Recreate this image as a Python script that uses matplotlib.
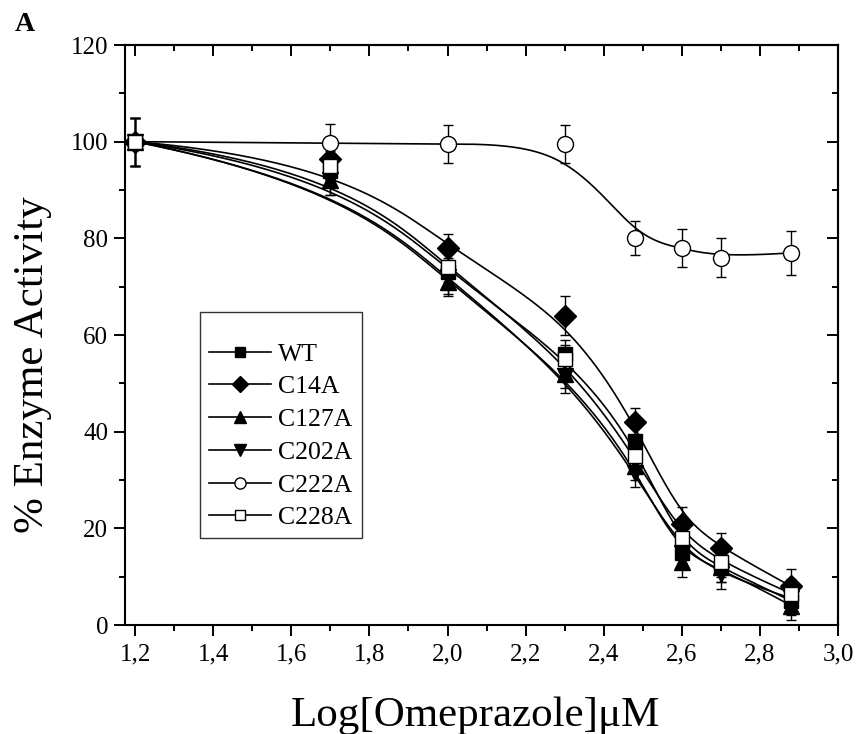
import numpy as np
import matplotlib
matplotlib.use("Agg")
import matplotlib.pyplot as plt
from matplotlib.ticker import MultipleLocator, FuncFormatter

plt.rcParams['font.family'] = ['Liberation Serif', 'DejaVu Serif']
plt.rcParams['mathtext.fontset'] = 'stix'

log_conc = [1.2, 1.7, 2.0, 2.3, 2.48, 2.6, 2.7, 2.88]
series_names = ["WT", "C14A", "C127A", "C202A", "C222A", "C228A"]
wt = [100, 94, 73, 56, 38, 15, 12, 5]
c14a = [100, 96.5, 78, 64, 42, 21, 16, 8]
c127a = [100, 92, 71, 52, 33, 13, 12, 4]
c202a = [100, 92, 72, 51.5, 31.5, 15, 10.5, 5.5]
c222a = [100, 99.7, 99.5, 99.5, 80, 78, 76, 77]
c228a = [100, 95, 74, 55, 35, 18, 13, 6.5]
wt_err = [5, 3, 3, 3, 3, 3, 3, 3]
c14a_err = [5, 4, 3, 4, 3, 3.5, 3, 3.5]
c127a_err = [5, 3, 3, 3, 3, 3, 3, 3]
c202a_err = [5, 3, 3.5, 3.5, 3, 3, 3, 3]
c222a_err = [5, 4, 4, 4, 3.5, 4, 4, 4.5]
c228a_err = [5, 3, 3, 3, 3, 3, 3, 3]

values = [wt, c14a, c127a, c202a, c222a, c228a]
errors = [wt_err, c14a_err, c127a_err, c202a_err, c222a_err, c228a_err]
markers = ['s', 'D', '^', 'v', 'o', 's']
faces = ['black', 'black', 'black', 'black', 'white', 'white']
msizes = [10, 11.5, 11.5, 11.5, 11.5, 10]


def bspline(x, y, n=300, k=3):
    P = np.column_stack([x, y]).astype(float)
    m = len(P)
    t = np.concatenate([np.zeros(k), np.linspace(0, 1, m - k + 1), np.ones(k)])
    u = np.linspace(0, 1, n)
    u[-1] = 1 - 1e-12
    B = np.zeros((n, len(t) - 1))
    for i in range(len(t) - 1):
        B[:, i] = ((t[i] <= u) & (u < t[i + 1])).astype(float)
    for p in range(1, k + 1):
        nb = np.zeros((n, len(t) - 1 - p))
        for i in range(len(t) - 1 - p):
            left = 0
            right = 0
            d1 = t[i + p] - t[i]
            d2 = t[i + p + 1] - t[i + 1]
            if d1 > 0:
                left = (u - t[i]) / d1 * B[:, i]
            if d2 > 0:
                right = (t[i + p + 1] - u) / d2 * B[:, i + 1]
            nb[:, i] = left + right
        B = nb
    C = B @ P
    return C[:, 0], C[:, 1]


fig = plt.figure(figsize=(8.59, 7.34), dpi=100)
ax = fig.add_axes([125 / 859, 1 - 625 / 734, (838 - 125) / 859, (625 - 45) / 734])

handles = []
for name, vals, err, mk, fc, ms in zip(series_names, values, errors, markers, faces, msizes):
    cx, cy = bspline(log_conc, vals)
    ax.plot(cx, cy, color='black', lw=1.2, zorder=2)
    ax.errorbar(log_conc, vals, yerr=err, fmt='none', ecolor='black', elinewidth=1.0,
                capsize=3.5, capthick=1.0, zorder=3)
    ax.plot(log_conc, vals, linestyle='none', marker=mk, ms=ms, mfc=fc, mec='black',
            mew=1.0, zorder=4)
    h, = ax.plot([], [], color='black', lw=1.2, marker=mk, ms=ms, mfc=fc, mec='black',
                 mew=1.0, label=name)
    handles.append(h)

ax.set_xlim(1.174, 3.0)
ax.set_ylim(0, 120)
ax.xaxis.set_major_locator(MultipleLocator(0.2))
ax.xaxis.set_minor_locator(MultipleLocator(0.1))
ax.yaxis.set_major_locator(MultipleLocator(20))
ax.yaxis.set_minor_locator(MultipleLocator(10))
ax.xaxis.set_major_formatter(FuncFormatter(lambda v, p: f"{v:.1f}".replace('.', ',')))
ax.yaxis.set_major_formatter(FuncFormatter(lambda v, p: f"{v:.0f}"))

for s in ax.spines.values():
    s.set_linewidth(1.5)
ax.tick_params(which='both', bottom=True, left=True, top=False, right=False,
               direction='out', width=1.4, labelsize=18, colors='black')
ax.tick_params(which='major', length=8)
ax.tick_params(which='minor', length=4.5)
ax.tick_params(axis='x', which='major', pad=5)
ax.tick_params(axis='y', which='major', pad=4)

# inward ticks on top and right
axt = ax.secondary_xaxis('top')
axt.xaxis.set_major_locator(MultipleLocator(0.2))
axt.xaxis.set_minor_locator(MultipleLocator(0.1))
axt.tick_params(which='both', direction='in', width=1.4, labeltop=False)
axt.tick_params(which='major', length=8)
axt.tick_params(which='minor', length=4.5)
axt.spines['top'].set_linewidth(1.5)
axr = ax.secondary_yaxis('right')
axr.yaxis.set_major_locator(MultipleLocator(20))
axr.yaxis.set_minor_locator(MultipleLocator(10))
axr.tick_params(which='both', direction='in', width=1.4, labelright=False)
axr.tick_params(which='major', length=8)
axr.tick_params(which='minor', length=4.5)
axr.spines['right'].set_linewidth(1.5)

leg = ax.legend(handles=handles, loc='upper left', bbox_to_anchor=(0.105, 0.54),
                borderaxespad=0, fontsize=18.5, frameon=True, fancybox=False,
                edgecolor='black', handlelength=2.4, handletextpad=0.3,
                labelspacing=0.38, borderpad=0.35, markerscale=0.7, numpoints=1,
                title=' ', title_fontsize=9)
leg.get_frame().set_linewidth(1.0)

fig.text(475 / 859, (734 - 726) / 734, 'Log[Omeprazole]μM', fontsize=31,
         ha='center', va='baseline')
fig.text(33 / 859, 0.503, '% Enzyme Activity', fontsize=31, rotation=90,
         ha='center', va='center')
fig.text(15 / 859, 1 - 12 / 734, 'A', fontsize=20, fontweight='bold', ha='left', va='top')

fig.savefig('out.png', dpi=100)
